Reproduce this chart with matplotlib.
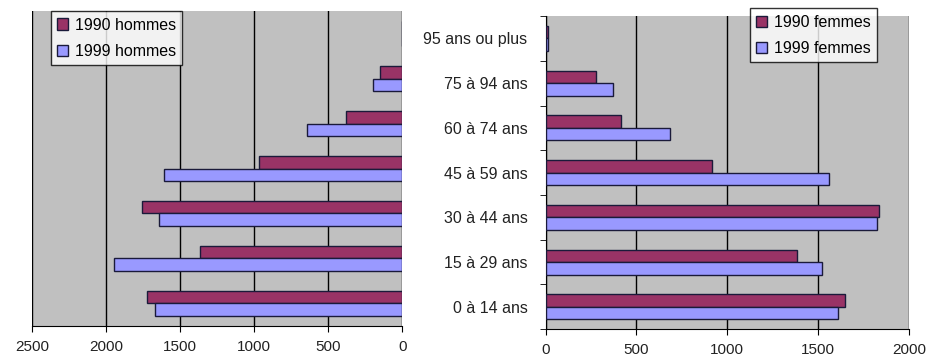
import numpy as np
import matplotlib.pyplot as plt

# Population par tranche d'âge, 1990 vs 1999
ages = ["0 à 14 ans", "15 à 29 ans", "30 à 44 ans", "45 à 59 ans",
        "60 à 74 ans", "75 à 94 ans", "95 ans ou plus"]
hommes_1990 = [1726, 1365, 1755, 970, 382, 147, 0]
hommes_1999 = [1672, 1947, 1640, 1607, 646, 199, 0]
femmes_1990 = [1647, 1385, 1833, 918, 413, 279, 15]
femmes_1999 = [1611, 1519, 1826, 1561, 683, 371, 15]

C1990, C1999 = "#993366", "#9999ff"
BG = "#c0c0c0"
EDGE = "#1a1a3a"

plt.rcParams.update({"font.family": ["Liberation Sans", "DejaVu Sans"],
                     "font.size": 11})
fig = plt.figure(figsize=(9.44, 3.57), dpi=100)
axL = fig.add_axes([0.034, 0.087, 0.392, 0.882])
axR = fig.add_axes([0.578, 0.078, 0.385, 0.877])

y = np.arange(len(ages))
h = 0.28


def draw(ax, v90, v99, lab90, lab99, xmax):
    ax.set_facecolor(BG)
    ax.barh(y + h / 2, v90, height=h, color=C1990, edgecolor=EDGE, lw=1.0,
            label=lab90, zorder=3)
    ax.barh(y - h / 2, v99, height=h, color=C1999, edgecolor=EDGE, lw=1.0,
            label=lab99, zorder=3)
    ax.set_xlim(0, xmax)
    ax.set_ylim(-0.5, len(ages) - 0.5)
    ax.set_xticks(np.arange(0, xmax + 1, 500))
    ax.grid(axis="x", color="black", lw=1.0, zorder=1)
    ax.set_axisbelow(True)
    for sp in ("top", "right", "left"):
        ax.spines[sp].set_visible(False)
    ax.spines["bottom"].set_color("black")
    ax.tick_params(axis="x", direction="out", length=4, color="black",
                   labelsize=11, colors="#222222", pad=6)
    leg = ax.legend(frameon=True, fancybox=False, edgecolor="black",
                    fontsize=11.5, handlelength=0.7, handleheight=0.7,
                    borderpad=0.4, labelspacing=0.7, handletextpad=0.4,
                    borderaxespad=0.2)
    leg.get_frame().set_linewidth(1.0)
    return leg


# hommes: axe inversé, sans étiquettes de catégories
legL = draw(axL, hommes_1990, hommes_1999, "1990 hommes", "1999 hommes", 2500)
axL.invert_xaxis()
axL.set_yticks([])
legL.set_loc("upper left")
legL.set_bbox_to_anchor((0.042, 1.01), transform=axL.transAxes)

# femmes
legR = draw(axR, femmes_1990, femmes_1999, "1990 femmes", "1999 femmes", 2000)
axR.spines["left"].set_visible(True)
axR.spines["left"].set_color("black")
axR.set_yticks(y)
axR.set_yticklabels(ages)
axR.set_yticks(np.arange(-0.5, len(ages) - 0.4, 1), minor=True)
axR.tick_params(axis="y", which="major", length=0, pad=13, labelsize=11.5,
                colors="#222222")
axR.tick_params(axis="y", which="minor", length=4, direction="out",
                color="black")
legR.set_loc("upper right")
legR.set_bbox_to_anchor((0.92, 1.035), transform=axR.transAxes)

fig.savefig("out.png", facecolor="white")
